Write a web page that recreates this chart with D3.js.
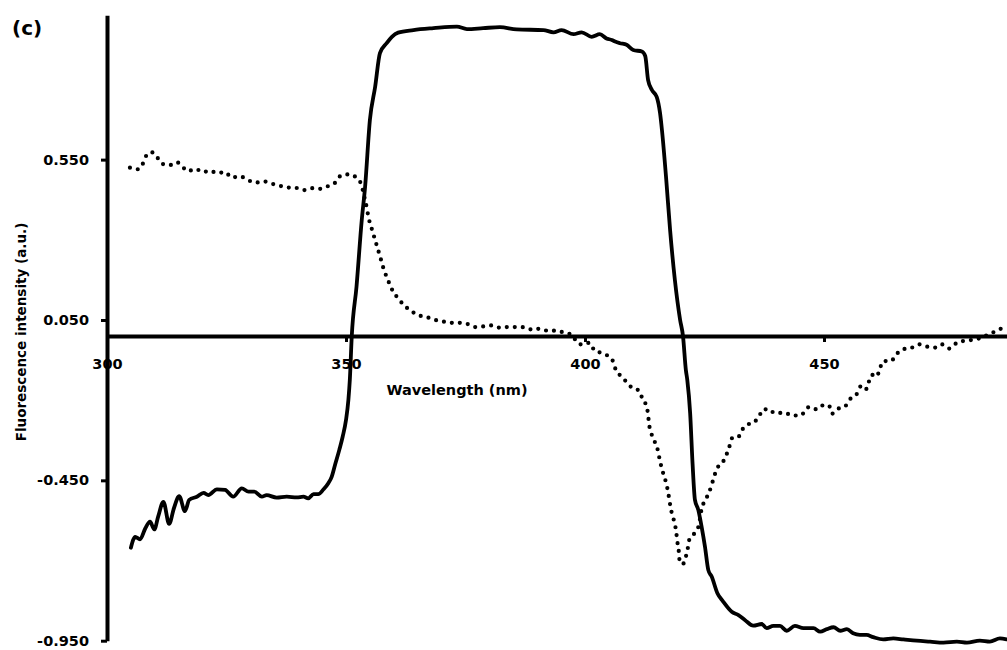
<!DOCTYPE html>
<html>
<head>
<meta charset="utf-8">
<script src="https://cdn.jsdelivr.net/npm/d3@7"></script>
<style>
  body { margin: 0; background: #fff; }
  svg { display: block; }
  text { font-family: "DejaVu Sans", sans-serif; font-weight: bold; fill: #000; }
</style>
</head>
<body>
<div id="chart"></div>
<script>
// solid curve (wavelength nm, intensity a.u.)
const solidWl = [305.0, 305.9, 306.9, 308.0, 309.0, 309.9, 310.7, 311.8, 313.0, 314.0, 315.1, 316.3, 317.2, 318.8,
  320.2, 321.2, 323.0, 324.7, 326.4, 328.2, 329.6, 330.8, 332.4, 333.4, 335.5, 337.6, 339.7, 341.1, 342.1, 343.2,
  344.2, 345.3, 346.3, 347.0, 347.7, 348.6, 349.3, 350.0, 350.5, 350.8, 351.2, 352.2, 353.3, 354.0, 355.0, 356.1,
  357.1, 358.5, 359.6, 360.9, 364.1, 368.3, 373.2, 375.3, 378.7, 382.2, 385.7, 391.3, 393.4, 395.1, 397.6, 399.3,
  401.4, 403.1, 404.5, 405.6, 406.3, 407.3, 408.7, 410.1, 411.9, 412.6, 413.2, 414.0, 415.0, 415.7, 416.1, 417.0,
  417.8, 418.8, 419.9, 420.5, 421.1, 421.4, 422.0, 422.5, 423.0, 423.7, 424.4, 425.1, 425.8, 426.5, 427.7, 428.9,
  430.7, 432.1, 433.5, 435.2, 437.0, 438.0, 439.4, 440.8, 442.2, 443.9, 445.7, 447.8, 449.2, 450.6, 452.0, 453.4,
  454.8, 456.1, 457.5, 458.9, 460.3, 462.4, 464.5, 466.6, 469.4, 472.2, 475.0, 477.8, 479.9, 482.6, 484.7, 486.8, 488.2];
const solidVal = [-0.660, -0.626, -0.634, -0.600, -0.579, -0.603, -0.563, -0.517, -0.586, -0.537, -0.499, -0.546, -0.511, -0.501,
  -0.489, -0.496, -0.478, -0.480, -0.501, -0.475, -0.485, -0.485, -0.501, -0.496, -0.504, -0.501, -0.503, -0.501, -0.506, -0.493,
  -0.493, -0.478, -0.459, -0.439, -0.402, -0.355, -0.314, -0.262, -0.199, -0.137, -0.002, 0.154, 0.362, 0.466, 0.674, 0.777,
  0.882, 0.913, 0.933, 0.946, 0.954, 0.960, 0.965, 0.957, 0.960, 0.963, 0.956, 0.954, 0.947, 0.954, 0.941, 0.947,
  0.933, 0.941, 0.928, 0.923, 0.918, 0.913, 0.908, 0.892, 0.887, 0.873, 0.798, 0.767, 0.746, 0.695, 0.642, 0.487,
  0.331, 0.175, 0.050, 0.000, -0.106, -0.137, -0.241, -0.397, -0.511, -0.542, -0.595, -0.657, -0.730, -0.750, -0.802, -0.828,
  -0.860, -0.870, -0.886, -0.903, -0.898, -0.911, -0.904, -0.904, -0.919, -0.904, -0.911, -0.911, -0.922, -0.914, -0.908, -0.919,
  -0.914, -0.927, -0.932, -0.932, -0.939, -0.946, -0.943, -0.946, -0.950, -0.953, -0.956, -0.953, -0.956, -0.950, -0.953, -0.943, -0.946];

// dotted curve
const dotWl = [304.8, 306.4, 307.3, 307.9, 309.3, 310.5, 311.5, 313.2, 314.6, 315.6, 316.9, 318.5, 320.1, 321.5,
  323.0, 324.7, 326.1, 327.8, 329.4, 331.0, 332.8, 334.5, 336.0, 337.7, 339.5, 341.2, 342.8, 344.5, 346.2, 347.8,
  349.0, 350.6, 352.0, 353.1, 354.0, 354.4, 354.7, 355.2, 357.3, 357.8, 358.4, 359.1, 359.8, 361.0, 362.1, 363.5,
  365.0, 366.7, 368.4, 370.1, 371.9, 373.7, 375.5, 377.1, 378.8, 380.5, 382.2, 384.0, 385.8, 387.5, 389.1, 390.6,
  392.3, 394.1, 395.8, 397.2, 398.4, 399.6, 400.9, 402.1, 403.3, 404.5, 405.9, 406.4, 407.7, 408.6, 409.8, 411.4,
  412.0, 412.9, 413.2, 413.4, 413.8, 414.4, 415.1, 415.5, 415.9, 416.4, 416.9, 417.3, 417.6, 417.9, 418.3, 418.8,
  419.1, 419.3, 419.6, 419.7, 420.4, 421.1, 421.5, 421.8, 422.9, 423.8, 424.4, 425.1, 425.9, 426.5, 427.0, 427.6,
  428.8, 429.6, 430.2, 430.8, 432.0, 432.9, 434.2, 435.4, 436.5, 437.5, 438.7, 440.0, 441.6, 443.2, 444.4, 445.7,
  446.9, 448.3, 449.3, 451.0, 451.7, 452.8, 454.5, 455.5, 456.8, 457.7, 458.7, 459.3, 460.0, 461.0, 461.7, 462.4,
  464.0, 465.2, 466.6, 468.1, 469.9, 471.5, 473.2, 474.6, 476.2, 477.8, 479.4, 481.0, 482.6, 484.4, 486.5, 488.1];
const dotVal = [0.525, 0.520, 0.530, 0.555, 0.573, 0.557, 0.537, 0.533, 0.542, 0.531, 0.514, 0.521, 0.511, 0.516,
  0.508, 0.511, 0.494, 0.498, 0.487, 0.478, 0.482, 0.475, 0.469, 0.463, 0.462, 0.455, 0.461, 0.459, 0.467, 0.479,
  0.501, 0.504, 0.496, 0.476, 0.423, 0.396, 0.370, 0.344, 0.239, 0.213, 0.188, 0.163, 0.140, 0.116, 0.096, 0.080,
  0.065, 0.060, 0.051, 0.046, 0.041, 0.041, 0.037, 0.028, 0.030, 0.033, 0.026, 0.028, 0.028, 0.027, 0.019, 0.023,
  0.016, 0.017, 0.009, 0.005, -0.021, -0.027, -0.021, -0.047, -0.052, -0.059, -0.080, -0.104, -0.127, -0.142, -0.161, -0.171,
  -0.196, -0.220, -0.246, -0.274, -0.300, -0.324, -0.348, -0.376, -0.403, -0.430, -0.454, -0.480, -0.506, -0.534, -0.560, -0.586,
  -0.613, -0.640, -0.667, -0.693, -0.712, -0.688, -0.662, -0.636, -0.615, -0.591, -0.539, -0.513, -0.490, -0.464, -0.439, -0.414,
  -0.394, -0.370, -0.345, -0.318, -0.316, -0.292, -0.275, -0.269, -0.247, -0.227, -0.238, -0.235, -0.244, -0.242, -0.249, -0.241,
  -0.221, -0.228, -0.217, -0.216, -0.242, -0.228, -0.218, -0.196, -0.182, -0.157, -0.168, -0.146, -0.121, -0.127, -0.101, -0.078,
  -0.078, -0.056, -0.041, -0.038, -0.026, -0.033, -0.036, -0.026, -0.039, -0.021, -0.015, -0.012, -0.007, 0.005, 0.019, 0.031];

const yTicks = [-0.95, -0.45, 0.05, 0.55];
const xTicks = [300, 350, 400, 450];

const width = 1007, height = 650;

const svg = d3.select("#chart").append("svg")
  .attr("width", width)
  .attr("height", height);

const x = d3.scaleLinear().domain([300, 500]).range([107, 1063]);
const y = d3.scaleLinear().domain([-0.95, 1.0]).range([640.7, 15.3]);

// plain hyphen for negatives, like the original
const fmt = d3.format(".3f");

// y axis
const yAxis = d3.axisLeft(y)
  .tickValues(yTicks)
  .tickFormat(d => fmt(d).replace("\u2212", "-"))
  .tickSize(6)
  .tickSizeOuter(0)
  .tickPadding(12);
const gy = svg.append("g")
  .attr("transform", "translate(" + x(300) + ",0)")
  .call(yAxis);
gy.select(".domain").attr("stroke-width", 4);
gy.selectAll(".tick line").attr("stroke-width", 3);
gy.selectAll(".tick text").style("font-size", "14.5px");

// x axis crossing at zero
const xAxis = d3.axisBottom(x)
  .tickValues(xTicks)
  .tickFormat(d3.format("d"))
  .tickSize(6)
  .tickSizeOuter(0)
  .tickPadding(16.5);
const gx = svg.append("g")
  .attr("transform", "translate(0," + y(0) + ")")
  .call(xAxis);
gx.select(".domain").attr("stroke-width", 4);
gx.selectAll(".tick line").attr("stroke-width", 3);
gx.selectAll(".tick text").style("font-size", "14.5px");

// lines
const line = d3.line()
  .curve(d3.curveMonotoneX)
  .x(d => x(d[0]))
  .y(d => y(d[1]));

svg.append("path")
  .datum(dotWl.map((w, i) => [w, dotVal[i]]))
  .attr("fill", "none")
  .attr("stroke", "#000")
  .attr("stroke-width", 4.2)
  .attr("stroke-linecap", "round")
  .attr("stroke-dasharray", "0,8")
  .attr("d", line);

svg.append("path")
  .datum(solidWl.map((w, i) => [w, solidVal[i]]))
  .attr("fill", "none")
  .attr("stroke", "#000")
  .attr("stroke-width", 3.8)
  .attr("stroke-linejoin", "round")
  .attr("stroke-linecap", "round")
  .attr("d", line);

// labels
svg.append("text")
  .attr("x", 457)
  .attr("y", 395)
  .attr("text-anchor", "middle")
  .style("font-size", "14.5px")
  .text("Wavelength (nm)");

svg.append("text")
  .attr("transform", "translate(25.5,332) rotate(-90)")
  .attr("text-anchor", "middle")
  .style("font-size", "13.5px")
  .text("Fluorescence intensity (a.u.)");

svg.append("text")
  .attr("x", 12)
  .attr("y", 35)
  .style("font-size", "20px")
  .text("(c)");
</script>
</body>
</html>
